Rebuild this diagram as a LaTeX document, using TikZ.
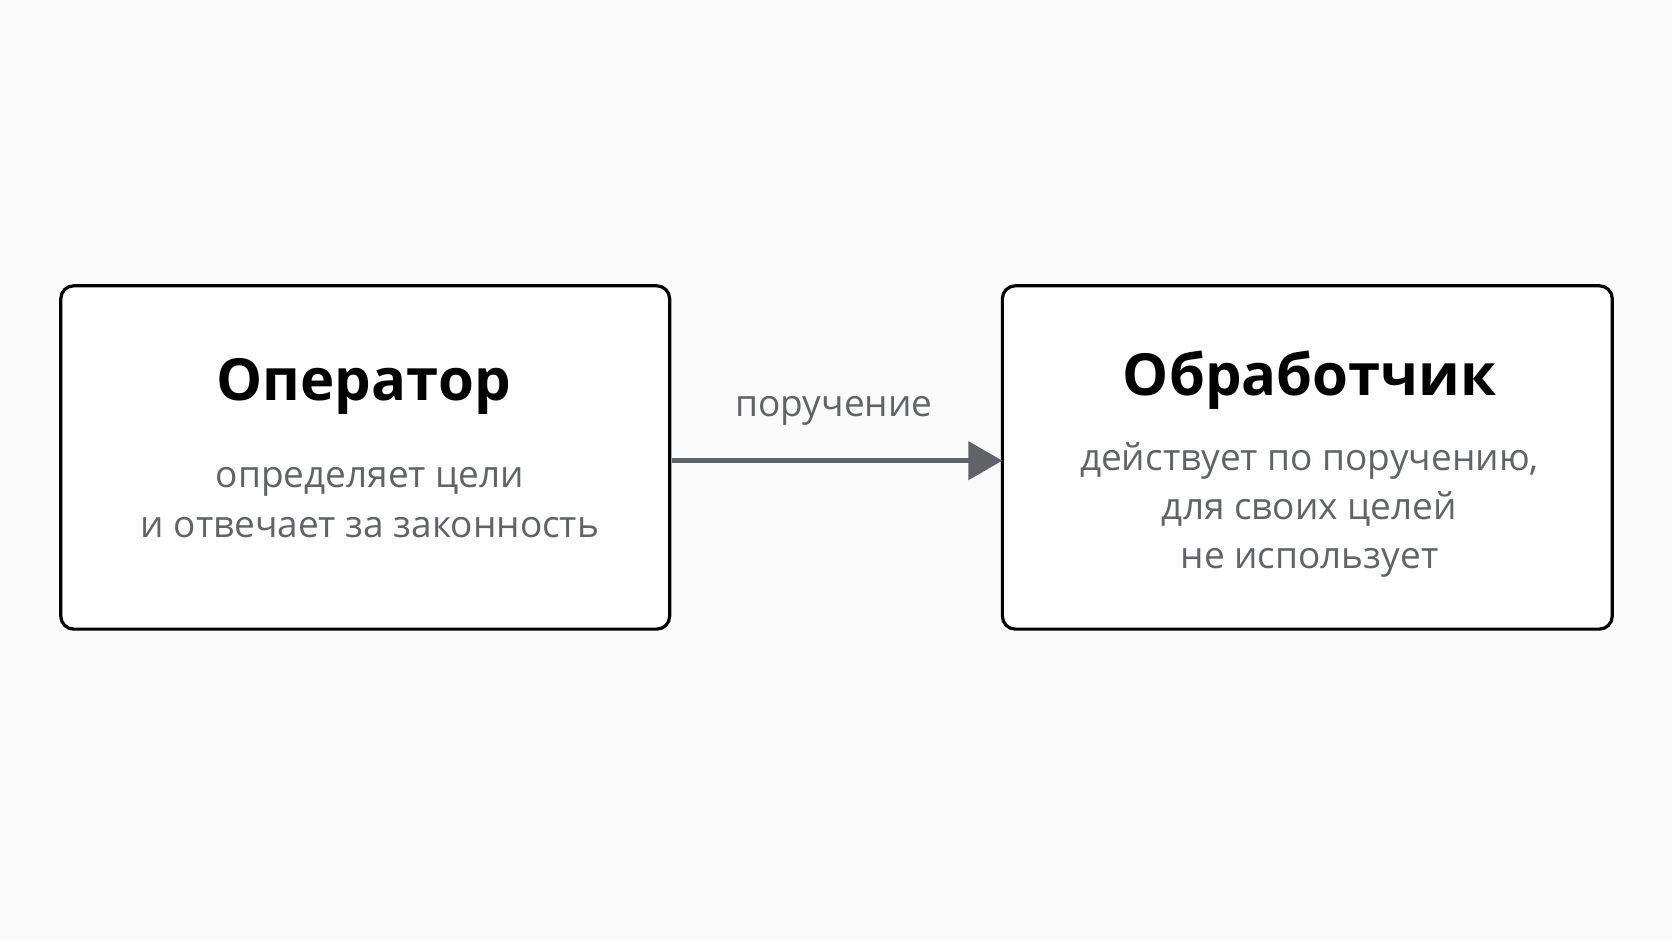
\documentclass[tikz,border=0pt]{standalone}
\usepackage{fontspec}
\setmainfont{Open Sans}
\usetikzlibrary{arrows.meta}
\definecolor{bg}{HTML}{FAFAFA}
\definecolor{gr}{HTML}{606368}
\begin{document}
\begin{tikzpicture}[x=1.06633pt,y=-1.06633pt,
  box/.style={draw=black,line width=3.2pt,rounded corners=13pt,fill=white},
  ttl/.style={font=\fontsize{58}{62}\selectfont\bfseries,text=black},
  sub/.style={font=\fontsize{37}{50}\selectfont,text=gr,align=center}]
\fill[bg] (0,0) rectangle (1568,882.5);
\useasboundingbox (0,0) rectangle (1568,882.5);
\draw[box] (57,268) rectangle (628,590);
\draw[box] (940,268) rectangle (1512,590);
\node[ttl] (t1) at (341,362) {Оператор};
\node[sub] (s1) at (347,471) {определяет цели\\и отвечает за законность};
\node[ttl] (t2) at (1228,357) {Обработчик};
\node[sub,font=\fontsize{37}{49}\selectfont] (s2) at (1228,478) {действует по поручению,\\для своих целей\\не использует};
\coordinate (a) at (630,432);
\coordinate (b) at (940,432);
\draw[gr,line width=4.5pt,-{Triangle[length=34pt,width=38pt]}] (a) -- (b);
\node[font=\fontsize{37}{40}\selectfont,text=gr] (l) at (782,385) {поручение};
\end{tikzpicture}
\end{document}
